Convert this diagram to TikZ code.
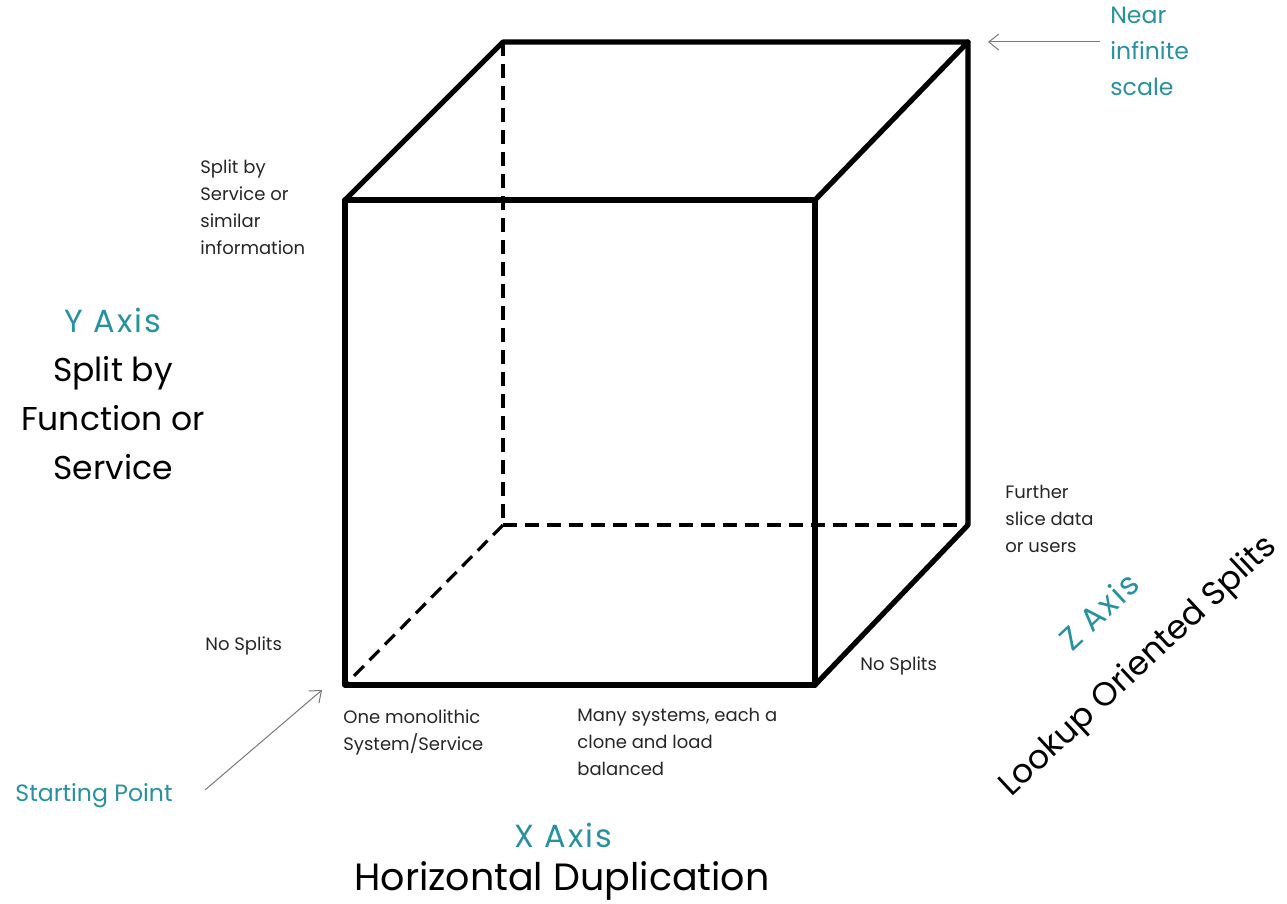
\documentclass[tikz,border=0pt]{standalone}
\usepackage{fontspec}
\setmainfont{Poppins}
\usetikzlibrary{arrows.meta}
\definecolor{tealtxt}{RGB}{40,145,160}
\definecolor{arrowgray}{RGB}{120,120,120}
\tikzset{
  edge/.style={line width=2.6pt, line cap=round, line join=round},
  hidden/.style={line width=1.6pt, dash pattern=on 7pt off 4pt},
  small/.style={font=\fontsize{9}{13.5}\selectfont, align=left, inner sep=0pt, text=black!85},
  big/.style={font=\fontsize{16.5}{24.5}\selectfont, align=center, inner sep=0pt},
  axis/.style={font=\fontsize{16}{18}\selectfont\addfontfeatures{LetterSpace=6}, text=tealtxt, inner sep=0pt},
  note/.style={font=\fontsize{11.8}{18}\selectfont, text=tealtxt, align=left, inner sep=0pt},
  pointer/.style={draw=arrowgray, line width=0.5pt, -{Straight Barb[length=5pt,width=8pt]}}
}
\begin{document}
\begin{tikzpicture}[x=0.5pt,y=-0.5pt]
\useasboundingbox (0,0) rectangle (1287,904);
% cube corners
\coordinate (ftl) at (345,200);
\coordinate (ftr) at (815,200);
\coordinate (fbr) at (815,685);
\coordinate (fbl) at (345,685);
\coordinate (btl) at (503,42);
\coordinate (btr) at (968,42);
\coordinate (bbr) at (968,525);
\coordinate (bbl) at (503,525);
% hidden edges
\draw[hidden] (btl) -- (bbl);
\draw[hidden] (bbl) -- (bbr);
\draw[hidden] (bbl) -- (fbl);
% visible edges
\draw[edge] (ftl) -- (ftr) -- (fbr) -- (fbl) -- cycle;
\draw[edge] (ftl) -- (btl) -- (btr) -- (ftr);
\draw[edge] (btr) -- (bbr) -- (fbr);
% labels (base anchor = baseline of the last line)
\node[small, anchor=base west] (splitsvc) at (200,255) {Split by\\Service or\\similar\\information};
\node[small, anchor=base west] (nosplitsL) at (205,650) {No Splits};
\node[small, anchor=base west] (mono) at (343,750) {One monolithic\\System/Service};
\node[small, anchor=base west] (many) at (577,775) {Many systems, each a\\clone and load\\balanced};
\node[small, anchor=base west] (nosplitsR) at (860,670) {No Splits};
\node[small, anchor=base west] (further) at (1005,552) {Further\\slice data\\or users};
% Y axis
\node[axis] (yaxis) at (113,320) {Y Axis};
\node[big] (ytext) at (113,418) {Split by\\Function or\\Service};
% X axis
\node[axis] (xaxis) at (563,835) {X Axis};
\node[big, font=\fontsize{19}{24}\selectfont] (xtext) at (562,881) {Horizontal Duplication};
% Z axis
\node[axis, rotate=43] (zaxis) at (1099,611) {Z Axis};
\node[big, font=\fontsize{16.5}{24}\selectfont, rotate=43] (ztext) at (1139,667) {Lookup Oriented Splits};
% notes with pointers
\node[note, anchor=base west] (near) at (1110,96) {Near\\infinite\\scale};
\coordinate (nearstart) at (1100,42);
\coordinate (nearend) at (988,42);
\draw[pointer] (nearstart) -- (nearend);
\node[note, anchor=base west] (start) at (15,801) {Starting Point};
\coordinate (startfrom) at (205,790);
\coordinate (startto) at (322,690);
\draw[pointer] (startfrom) -- (startto);
\end{tikzpicture}
\end{document}
